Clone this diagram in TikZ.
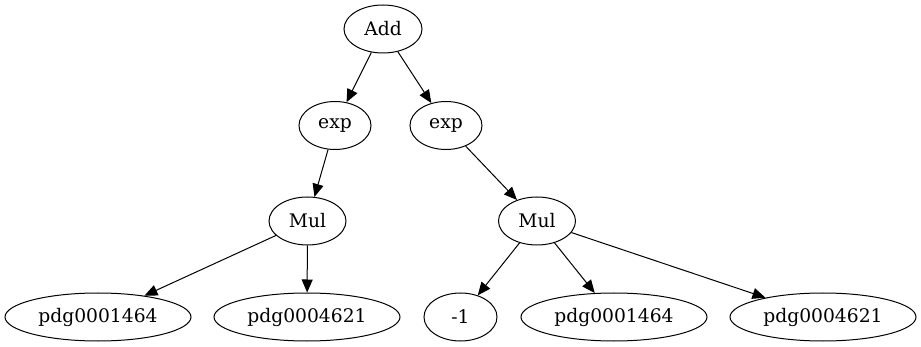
\documentclass[tikz,border=0pt]{standalone}
\usepackage{fontspec}
\setmainfont{DejaVu Serif}
\usetikzlibrary{shapes.geometric, arrows.meta}
\begin{document}
\begin{tikzpicture}[
  x=1pt, y=1pt,
  font=\fontsize{18.7pt}{22pt}\selectfont,
  op/.style={draw, ellipse, line width=1pt, inner sep=0pt, minimum width=72pt, minimum height=48pt},
  leaf/.style={op, minimum width=186pt},
  edge/.style={line width=1pt, -{Triangle[length=13pt, width=11pt]}}
]
\useasboundingbox (0,0) rectangle (921,-347);

% ---- operator rows (y = -29, -125.5, -221) ----
\node[op, minimum width=78pt] (add)  at (383,-29)    {Add};
\node[op]                     (expa) at (335,-125.5) {exp};
\node[op]                     (expb) at (446,-125.5) {exp};
\node[op, minimum width=77pt] (mula) at (307.5,-221) {Mul};
\node[op, minimum width=77pt] (mulb) at (537,-221)   {Mul};

% ---- leaves (y = -317) ----
\node[leaf] (pdga) at (98,-317)    {pdg0001464};
\node[leaf] (pdgb) at (307,-317)   {pdg0004621};
\node[op, minimum width=73pt] (neg) at (460.5,-317) {-1};
\node[leaf] (pdgc) at (614,-317)   {pdg0001464};
\node[leaf] (pdgd) at (823,-317)   {pdg0004621};

% ---- edges ----
\draw[edge] (add) -- (expa);
\draw[edge] (add) -- (expb);
\draw[edge] (expa) -- (mula);
\draw[edge] (expb) -- (mulb);
\draw[edge] (mula) -- (pdga);
\draw[edge] (mula) -- (pdgb);
\draw[edge] (mulb) -- (neg);
\draw[edge] (mulb) -- (pdgc);
\draw[edge] (mulb) -- (pdgd);
\end{tikzpicture}
\end{document}
